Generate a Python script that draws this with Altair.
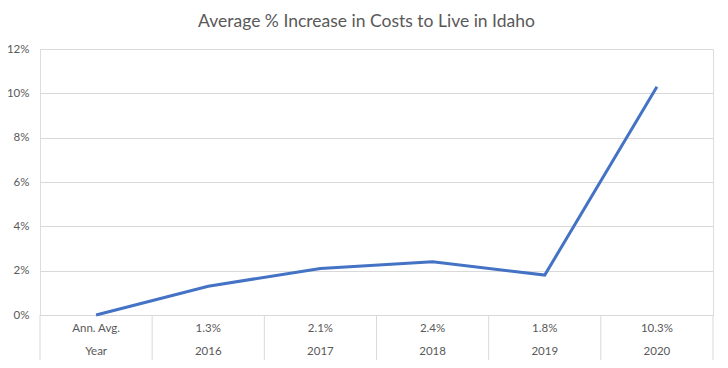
import altair as alt
import pandas as pd

# ---- data ----
years = ["Year", "2016", "2017", "2018", "2019", "2020"]
values = [0.0, 1.3, 2.1, 2.4, 1.8, 10.3]
table_top = ["Ann. Avg.", "1.3%", "2.1%", "2.4%", "1.8%", "10.3%"]
y_ticks = [0, 2, 4, 6, 8, 10, 12]

df = pd.DataFrame({
    "year": years,
    "pct": [v / 100 for v in values],
    "top": table_top,
})

W, H = 673, 266
FONT = "Lato"
GREY = "#595959"

xband = alt.Scale(type="band", domain=years, paddingInner=0, paddingOuter=0)

line = alt.Chart(df).mark_line(color="#4472C4", strokeWidth=3).encode(
    x=alt.X("year:N", scale=xband, axis=None, bandPosition=0.5, sort=years),
    y=alt.Y(
        "pct:Q",
        scale=alt.Scale(domain=[0, 0.12], nice=False),
        axis=alt.Axis(
            values=[t / 100 for t in y_ticks],
            format=".0%",
            title=None,
            domain=False,
            ticks=False,
            labelPadding=11,
            gridColor="#d9d9d9",
            labelColor=GREY,
            labelFont=FONT,
            labelFontSize=11.5,
        ),
    ),
)

vrules = alt.Chart(df).mark_rule(color="#d9d9d9", strokeWidth=1).encode(
    x=alt.X("year:N", scale=xband, axis=None, bandPosition=0, sort=years),
    y=alt.value(H),
    y2=alt.value(H + 47),
)
right_rule = alt.Chart(df.head(1)).mark_rule(color="#d9d9d9", strokeWidth=1).encode(
    x=alt.value(W), y=alt.value(H), y2=alt.value(H + 47)
)

row1 = alt.Chart(df).mark_text(font=FONT, fontSize=11.5, color=GREY, baseline="middle").encode(
    x=alt.X("year:N", scale=xband, axis=None, bandPosition=0.5, sort=years),
    y=alt.value(H + 14),
    text="top:N",
)
row2 = alt.Chart(df).mark_text(font=FONT, fontSize=11.5, color=GREY, baseline="middle").encode(
    x=alt.X("year:N", scale=xband, axis=None, bandPosition=0.5, sort=years),
    y=alt.value(H + 37),
    text="year:N",
)

chart = (
    alt.layer(vrules, right_rule, line, row1, row2)
    .properties(
        width=W,
        height=H,
        title=alt.TitleParams(
            "Average % Increase in Costs to Live in  Idaho",
            font=FONT,
            fontSize=17.5,
            fontWeight="normal",
            color=GREY,
            anchor="middle",
            offset=13,
            dx=-10,
        ),
        autosize=alt.AutoSizeParams(type="none"),
        padding={"left": 32, "top": 41, "right": 7, "bottom": 45},
    )
    .configure_view(stroke=None)
    .configure(background="white")
)

chart.save("out.html", embed_options={"renderer": "svg", "actions": False})
